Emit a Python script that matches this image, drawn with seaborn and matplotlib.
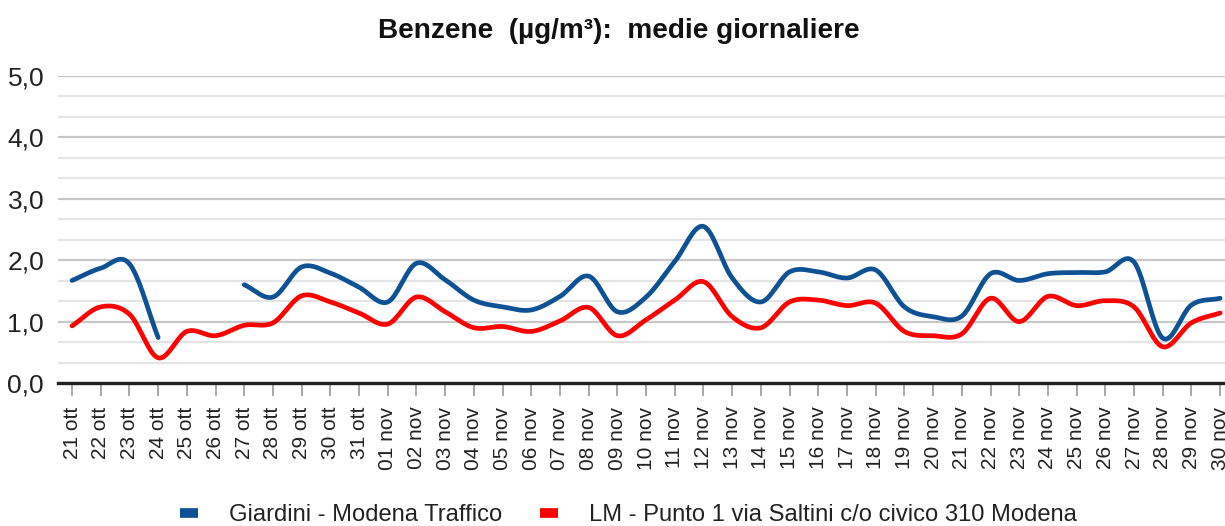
import numpy as np
import pandas as pd
import matplotlib
matplotlib.use("Agg")
import matplotlib.pyplot as plt
import seaborn as sns
from matplotlib.lines import Line2D

# ---------------- data ----------------
dates = (["21 ott", "22 ott", "23 ott", "24 ott", "25 ott", "26 ott", "27 ott", "28 ott",
          "29 ott", "30 ott", "31 ott"] +
         ["%02d nov" % d for d in range(1, 31)])

giardini = [1.67, 1.87, 1.94, 0.74, np.nan, np.nan, 1.60, 1.40, 1.89, 1.79, 1.56,
            1.32, 1.95, 1.68, 1.35, 1.24, 1.19, 1.41, 1.74, 1.16, 1.40,
            1.98, 2.55, 1.71, 1.32, 1.81, 1.81, 1.71, 1.84, 1.24, 1.08,
            1.09, 1.78, 1.67, 1.78, 1.80, 1.81, 1.97, 0.73, 1.27, 1.38]

saltini = [0.93, 1.24, 1.12, 0.41, 0.84, 0.77, 0.94, 0.98, 1.42, 1.32, 1.14,
           0.96, 1.40, 1.16, 0.90, 0.92, 0.84, 1.01, 1.23, 0.77, 1.03,
           1.35, 1.65, 1.08, 0.90, 1.32, 1.35, 1.26, 1.30, 0.84, 0.77,
           0.80, 1.38, 1.00, 1.41, 1.26, 1.34, 1.24, 0.59, 0.98, 1.14]

series_names = ["Giardini - Modena Traffico", "LM - Punto 1 via Saltini c/o civico 310 Modena"]
series_colors = ["#0F5294", "#FF0000"]
y_ticks = [0, 1, 2, 3, 4, 5]
title = "Benzene  (µg/m³):  medie giornaliere"


def catmull_rom(xs, ys, n=20):
    """Smooth a segment of points with a Catmull-Rom spline (like spreadsheet smoothed lines)."""
    xs = np.asarray(xs, float)
    ys = np.asarray(ys, float)
    if len(xs) < 2:
        return xs, ys
    px = np.concatenate([[2 * xs[0] - xs[1]], xs, [2 * xs[-1] - xs[-2]]])
    py = np.concatenate([[2 * ys[0] - ys[1]], ys, [2 * ys[-1] - ys[-2]]])
    outx, outy = [], []
    t = np.linspace(0, 1, n, endpoint=False)
    for i in range(1, len(px) - 2):
        p0, p1, p2, p3 = py[i - 1], py[i], py[i + 1], py[i + 2]
        x0, x1, x2, x3 = px[i - 1], px[i], px[i + 1], px[i + 2]
        t2, t3 = t * t, t * t * t
        yy = 0.5 * (2 * p1 + (-p0 + p2) * t + (2 * p0 - 5 * p1 + 4 * p2 - p3) * t2 + (-p0 + 3 * p1 - 3 * p2 + p3) * t3)
        xx = 0.5 * (2 * x1 + (-x0 + x2) * t + (2 * x0 - 5 * x1 + 4 * x2 - x3) * t2 + (-x0 + 3 * x1 - 3 * x2 + x3) * t3)
        outx.append(xx)
        outy.append(yy)
    outx.append([xs[-1]])
    outy.append([ys[-1]])
    return np.concatenate(outx), np.concatenate(outy)


def smooth_frame(values, name):
    vals = np.asarray(values, float)
    idx = np.arange(len(vals))
    frames = []
    seg = 0
    start = None
    for i in range(len(vals) + 1):
        ok = i < len(vals) and not np.isnan(vals[i])
        if ok and start is None:
            start = i
        if not ok and start is not None:
            sx, sy = catmull_rom(idx[start:i], vals[start:i])
            frames.append(pd.DataFrame({"x": sx, "y": sy, "serie": name, "seg": f"{name}_{seg}"}))
            seg += 1
            start = None
    return pd.concat(frames, ignore_index=True)


sns.set_theme(style="white")
plt.rcParams["font.family"] = ["Liberation Sans", "DejaVu Sans"]

fig = plt.figure(figsize=(12.25, 5.26), dpi=100)
ax = fig.add_axes([58 / 1225, 1 - 383 / 526, 1 - 58 / 1225, (383 - 76) / 526])

# grid lines: major every 1.0, minor every 1/3
for v in np.arange(0, 5.01, 1 / 3):
    if abs(v - round(v)) < 1e-6:
        ax.axhline(v, color="#C8C8C8", lw=1.6, zorder=0)
    else:
        ax.axhline(v, color="#E4E4E4", lw=1.6, zorder=0)

for name, values, col in zip(series_names, [giardini, saltini], series_colors):
    df = smooth_frame(values, name)
    for segname, sub in df.groupby("seg"):
        sns.lineplot(data=sub, x="x", y="y", ax=ax, color=col, lw=3.4, sort=False,
                     estimator=None, legend=False, zorder=3)

ax.set_xlim(-0.49, 40.17)
ax.set_ylim(0, 5)
ax.set_yticks(y_ticks)
ax.set_yticklabels([f"{v:.1f}".replace(".", ",") for v in y_ticks], fontsize=19, color="#222222")
ax.set_xticks(np.arange(len(dates)))
ax.set_xticklabels(dates, rotation=90, fontsize=15, color="#222222")
ax.tick_params(axis="x", length=9, width=1.2, color="#999999", pad=8, direction="out", bottom=True)
ax.tick_params(axis="y", length=0, pad=10)
ax.set_xlabel("")
ax.set_ylabel("")
for s in ["top", "right", "left"]:
    ax.spines[s].set_visible(False)
ax.spines["bottom"].set_color("#222222")
ax.spines["bottom"].set_linewidth(2.4)
ax.spines["bottom"].set_zorder(4)

fig.text(0.505, 1 - 31 / 526, title, ha="center", va="center", fontsize=20.2, fontweight="bold", color="#111111")

handles = [Line2D([0], [0], color=c, lw=7, solid_capstyle="butt") for c in series_colors]
fig.legend(handles, series_names, loc="center", bbox_to_anchor=(0.513, 1 - 515 / 526), ncol=2,
           frameon=False, fontsize=17.1, handlelength=0.75, handletextpad=1.3, columnspacing=1.6,
           labelcolor="#222222")

fig.savefig("out.png", dpi=100)
